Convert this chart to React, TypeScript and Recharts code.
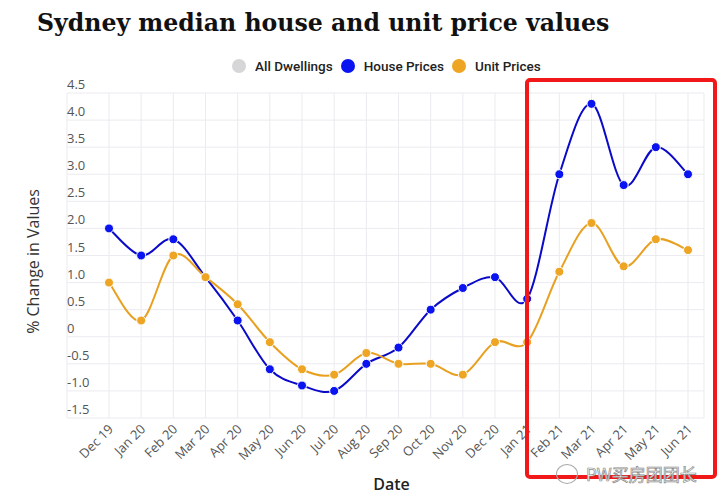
import { LineChart, Line, XAxis, YAxis, CartesianGrid } from "recharts";

const MONTHS = [
  "Dec 19", "Jan 20", "Feb 20", "Mar 20", "Apr 20", "May 20", "Jun 20",
  "Jul 20", "Aug 20", "Sep 20", "Oct 20", "Nov 20", "Dec 20", "Jan 21",
  "Feb 21", "Mar 21", "Apr 21", "May 21", "Jun 21",
];
const HOUSE_PRICES = [
  2.0, 1.5, 1.8, 1.1, 0.3, -0.6, -0.9, -1.0, -0.5, -0.2, 0.5, 0.9, 1.1, 0.7,
  3.0, 4.3, 2.8, 3.5, 3.0,
];
const UNIT_PRICES = [
  1.0, 0.3, 1.5, 1.1, 0.6, -0.1, -0.6, -0.7, -0.3, -0.5, -0.5, -0.7, -0.1,
  -0.1, 1.2, 2.1, 1.3, 1.8, 1.6,
];
const Y_TICKS = [-1.5, -1.0, -0.5, 0, 0.5, 1.0, 1.5, 2.0, 2.5, 3.0, 3.5, 4.0, 4.5];
const LEGEND = [
  { name: "All Dwellings", color: "#d6d6d9" },
  { name: "House Prices", color: "#0a14f0" },
  { name: "Unit Prices", color: "#eda523" },
];

const data = MONTHS.map((month, i) => ({
  month,
  house: HOUSE_PRICES[i],
  unit: UNIT_PRICES[i],
}));

const PLOT_LEFT = 67;
const TICK_FONT = "'Open Sans', sans-serif";

// cardinal spline, roughly what plotly's "spline" shape looks like
const cardinalCurve = (tension: number) => (context: any) => {
  let pts: [number, number][] = [];
  const k = (1 - tension) / 6;
  return {
    areaStart() {},
    areaEnd() {},
    lineStart() {
      pts = [];
    },
    point(x: number, y: number) {
      pts.push([+x, +y]);
    },
    lineEnd() {
      if (!pts.length) return;
      context.moveTo(pts[0][0], pts[0][1]);
      for (let i = 0; i < pts.length - 1; i++) {
        const p0 = pts[Math.max(i - 1, 0)];
        const p1 = pts[i];
        const p2 = pts[i + 1];
        const p3 = pts[Math.min(i + 2, pts.length - 1)];
        context.bezierCurveTo(
          p1[0] + k * (p2[0] - p0[0]),
          p1[1] + k * (p2[1] - p0[1]),
          p2[0] - k * (p3[0] - p1[0]),
          p2[1] - k * (p3[1] - p1[1]),
          p2[0],
          p2[1]
        );
      }
    },
  };
};

const XTick = ({ x, y, payload }: any) => (
  <text
    x={x + 5}
    y={y + 4}
    transform={`rotate(-45, ${x + 5}, ${y + 4})`}
    textAnchor="end"
    fontFamily={TICK_FONT}
    fontSize={13}
    fill="#555"
  >
    {payload.value}
  </text>
);

const YTick = ({ y, payload }: any) => (
  <text
    x={PLOT_LEFT}
    y={y - 4}
    textAnchor="start"
    fontFamily={TICK_FONT}
    fontSize={13}
    fill="#555"
  >
    {payload.value === 0 ? "0" : Number(payload.value).toFixed(1)}
  </text>
);

const YTitle = ({ viewBox }: any) => {
  const cx = 33;
  const cy = viewBox.y + viewBox.height / 2 + 6;
  return (
    <text
      x={cx}
      y={cy}
      transform={`rotate(-90, ${cx}, ${cy})`}
      textAnchor="middle"
      dominantBaseline="central"
      fontFamily={TICK_FONT}
      fontSize={16}
      fill="#333"
    >
      % Change in Values
    </text>
  );
};

const XTitle = ({ viewBox }: any) => (
  <text
    x={viewBox.x + viewBox.width / 2 + 6}
    y={490}
    textAnchor="middle"
    fontFamily={TICK_FONT}
    fontSize={16}
    fontWeight={600}
    fill="#222"
  >
    Date
  </text>
);

const App = () => {
  return (
    <div
      style={{
        position: "absolute",
        left: 0,
        top: 0,
        width: 723,
        height: 504,
        background: "#fff",
        overflow: "hidden",
      }}
    >
      <div
        style={{
          position: "absolute",
          left: 37,
          top: 7,
          fontFamily: "'DejaVu Serif', serif",
          fontWeight: 700,
          fontSize: 23.6,
          lineHeight: "32px",
          color: "#111",
          whiteSpace: "nowrap",
        }}
      >
        Sydney median house and unit price values
      </div>

      <div
        style={{
          position: "absolute",
          left: 232,
          top: 58,
          display: "flex",
          alignItems: "center",
          fontFamily: "Roboto, sans-serif",
          fontWeight: 500,
          fontSize: 13.5,
          color: "#222",
          whiteSpace: "nowrap",
        }}
      >
        {LEGEND.map((item) => (
          <div
            key={item.name}
            style={{ display: "flex", alignItems: "center", marginRight: 8 }}
          >
            <span
              style={{
                width: 14,
                height: 14,
                borderRadius: "50%",
                background: item.color,
                display: "inline-block",
                marginRight: 9,
              }}
            />
            <span>{item.name}</span>
          </div>
        ))}
      </div>

      <LineChart
        width={723}
        height={504}
        data={data}
        margin={{ top: 93, right: 19, bottom: 26, left: 7 }}
        style={{ position: "absolute", left: 0, top: 0 }}
      >
        <CartesianGrid stroke="#ebebf0" strokeWidth={1} />
        <XAxis
          dataKey="month"
          height={60}
          padding={{ left: 42, right: 16 }}
          axisLine={false}
          tickLine={false}
          interval={0}
          tick={<XTick />}
          label={<XTitle />}
        />
        <YAxis
          width={60}
          domain={[-1.5, 4.5]}
          ticks={Y_TICKS}
          axisLine={false}
          tickLine={false}
          tick={<YTick />}
          label={<YTitle />}
        />
        <Line
          dataKey="house"
          type={cardinalCurve(0)}
          stroke="#0a0ac8"
          strokeWidth={2}
          dot={{ r: 4.5, fill: "#0a14f0", stroke: "#fff", strokeWidth: 1 }}
          isAnimationActive={false}
        />
        <Line
          dataKey="unit"
          type={cardinalCurve(0)}
          stroke="#e8a020"
          strokeWidth={2}
          dot={{ r: 4.5, fill: "#eda523", stroke: "#fff", strokeWidth: 1 }}
          isAnimationActive={false}
        />
      </LineChart>

      <div
        style={{
          position: "absolute",
          left: 525,
          top: 78,
          width: 184,
          height: 393,
          border: "4px solid #f01818",
          borderRadius: 5,
          pointerEvents: "none",
        }}
      />
      <div
        style={{
          position: "absolute",
          left: 556,
          top: 461,
          display: "flex",
          alignItems: "center",
          fontFamily: "'Noto Sans CJK SC', sans-serif",
          fontSize: 17,
          color: "#fff",
          WebkitTextStroke: "0.7px #888",
          whiteSpace: "nowrap",
        }}
      >
        <span
          style={{
            width: 20,
            height: 18,
            borderRadius: "50%",
            border: "1px solid #aaa",
            marginRight: 8,
            display: "inline-block",
          }}
        />
        PW买房团团长
      </div>
    </div>
  );
};

export default App;
